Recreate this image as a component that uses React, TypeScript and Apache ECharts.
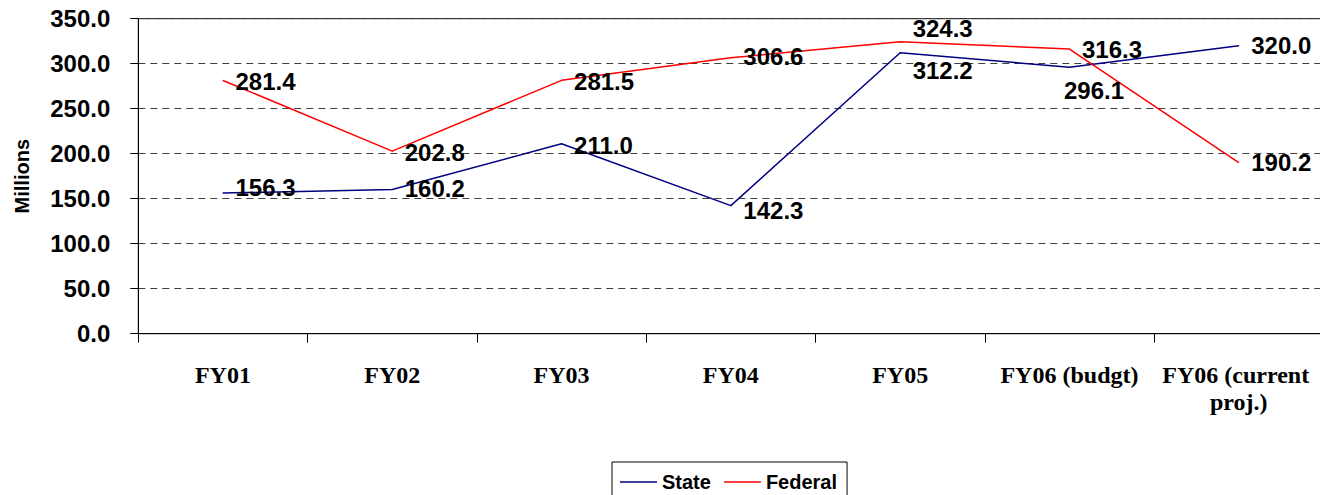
import React, { useEffect, useRef } from "react";
import * as echarts from "echarts";

const categories = ["FY01", "FY02", "FY03", "FY04", "FY05", "FY06 (budgt)", "FY06 (current proj.)"];
const stateValues = [156.3, 160.2, 211.0, 142.3, 312.2, 296.1, 320.0];
const federalValues = [281.4, 202.8, 281.5, 306.6, 324.3, 316.3, 190.2];
const yTicks = { min: 0, max: 350, interval: 50 };

// label nudges (x, y) in pixels, relative to a right-placed label
const stateLabelOffsets: [number, number][] = [[0, -6], [0, -1], [0, 2], [0, 5], [0, 18], [-18, 23], [0, 0]];
const federalLabelOffsets: [number, number][] = [[0, 1], [0, 1], [0, 1], [0, -1], [0, -13], [0, 0], [0, 0]];

const SANS = 'Arial, "Liberation Sans", sans-serif';
const SERIF = '"Times New Roman", "Liberation Serif", serif';

export default function App() {
  const ref = useRef<HTMLDivElement>(null);
  useEffect(() => {
    if (!ref.current) return;
    const chart = echarts.init(ref.current, null, { renderer: "svg" });
    const labelBase = {
      show: true,
      position: "right",
      distance: 12,
      color: "#000",
      fontFamily: SANS,
      fontWeight: "bold",
      fontSize: 24,
      formatter: (p: any) => Number(p.value).toFixed(1),
    };
    chart.setOption({
      animation: false,
      backgroundColor: "#fff",
      grid: {
        left: 138.3,
        right: -3.4,
        top: 18.7,
        bottom: 161.3,
        show: true,
        borderColor: "#000",
        borderWidth: 1,
        containLabel: false,
        outerBoundsMode: "none",
      },
      legend: {
        left: 612,
        top: 462,
        orient: "horizontal",
        icon: "rect",
        itemWidth: 37,
        itemHeight: 1.5,
        itemGap: 13,
        padding: [10, 10, 10, 8],
        borderColor: "#000",
        borderWidth: 1,
        backgroundColor: "#fff",
        textStyle: { fontFamily: SANS, fontWeight: "bold", fontSize: 20, color: "#000", lineHeight: 20 },
        data: ["State", "Federal"],
      },
      xAxis: {
        type: "category",
        data: categories,
        boundaryGap: true,
        axisLine: { show: true, lineStyle: { color: "#000", width: 1 } },
        axisTick: { show: true, length: 9, lineStyle: { color: "#000" } },
        axisLabel: {
          interval: 0,
          margin: 28,
          color: "#000",
          fontFamily: SERIF,
          fontWeight: "bold",
          fontSize: 24,
          lineHeight: 27,
          width: 165,
          overflow: "break",
        },
        splitLine: { show: false },
      },
      yAxis: {
        type: "value",
        min: yTicks.min,
        max: yTicks.max,
        interval: yTicks.interval,
        name: "Millions",
        nameLocation: "middle",
        nameGap: 106,
        nameRotate: 90,
        nameTextStyle: { fontFamily: SANS, fontWeight: "bold", fontSize: 20, color: "#000" },
        axisLine: { show: true, lineStyle: { color: "#000", width: 1 } },
        axisTick: { show: true, length: 8, lineStyle: { color: "#000" } },
        axisLabel: {
          margin: 28,
          color: "#000",
          fontFamily: SANS,
          fontWeight: "bold",
          fontSize: 24,
          formatter: (v: number) => v.toFixed(1),
        },
        splitLine: { show: true, lineStyle: { color: "#404040", type: [7, 5], width: 1 } },
      },
      series: [
        {
          name: "State",
          type: "line",
          symbol: "circle",
          symbolSize: 1,
          showSymbol: true,
          itemStyle: { color: "#000080" },
          lineStyle: { color: "#000080", width: 1.5 },
          label: labelBase,
          data: stateValues.map((v, i) => ({ value: v, label: { offset: stateLabelOffsets[i] } })),
        },
        {
          name: "Federal",
          type: "line",
          symbol: "circle",
          symbolSize: 1,
          showSymbol: true,
          itemStyle: { color: "#ff0000" },
          lineStyle: { color: "#ff0000", width: 1.5 },
          label: labelBase,
          data: federalValues.map((v, i) => ({ value: v, label: { offset: federalLabelOffsets[i] } })),
        },
      ],
    });
    return () => chart.dispose();
  }, []);
  return (
    <div
      ref={ref}
      style={{ position: "absolute", left: 0, top: 0, width: 1320, height: 495 }}
    />
  );
}
